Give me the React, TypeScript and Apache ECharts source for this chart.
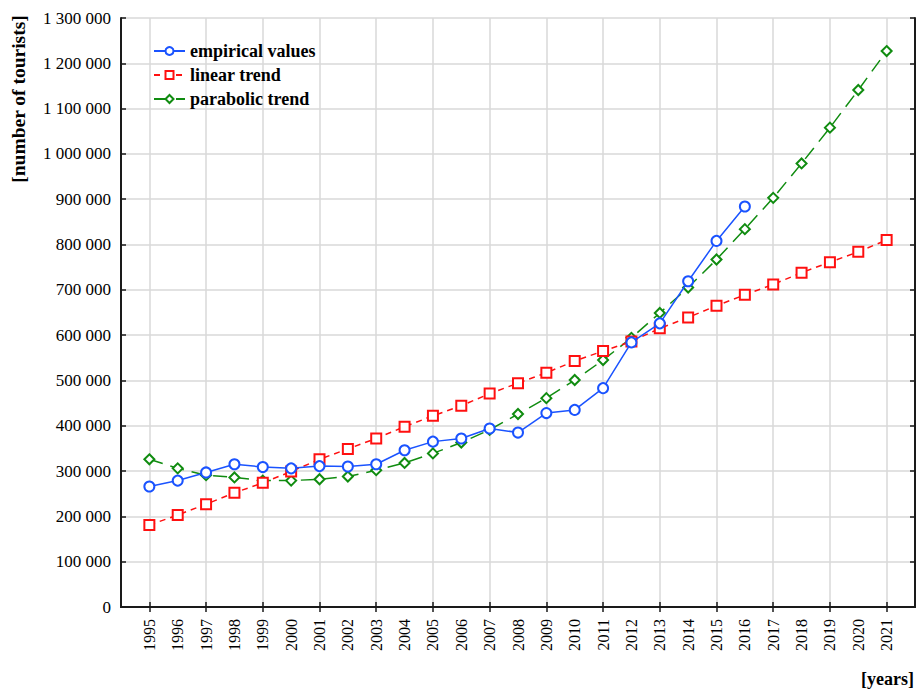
import React, { useEffect, useRef } from "react";
import * as echarts from "echarts";

const years = [
  "1995", "1996", "1997", "1998", "1999", "2000", "2001", "2002", "2003",
  "2004", "2005", "2006", "2007", "2008", "2009", "2010", "2011", "2012",
  "2013", "2014", "2015", "2016", "2017", "2018", "2019", "2020", "2021",
];

const empiricalValues = [
  266000, 279000, 297000, 315000, 309000, 306000, 311000, 310000, 315000,
  346000, 365000, 372000, 394000, 385000, 428000, 435000, 483000, 584000,
  626000, 719000, 808000, 884000,
];

const linearTrend = [
  181000, 203000, 227000, 252000, 274000, 299000, 326000, 349000, 372000,
  398000, 422000, 444000, 471000, 494000, 517000, 543000, 565000, 586000,
  615000, 639000, 665000, 689000, 712000, 738000, 761000, 784000, 810000,
];

const parabolicTrend = [
  326000, 306000, 291000, 286000, 279000, 279000, 282000, 288000, 302000,
  318000, 339000, 363000, 391000, 426000, 461000, 501000, 545000, 594000,
  649000, 705000, 767000, 834000, 903000, 979000, 1058000, 1141000, 1227000,
];

const seriesNames = ["empirical values", "linear trend", "parabolic trend"];
const yTitle = "[number of tourists]";
const xTitle = "[years]";

const FONT = "Liberation Serif";

const fmt = (v: number) =>
  String(Math.round(v)).replace(/\B(?=(\d{3})+(?!\d))/g, " ");

export default function App() {
  const ref = useRef<HTMLDivElement>(null);
  useEffect(() => {
    if (!ref.current) return;
    const chart = echarts.init(ref.current, null, { renderer: "svg" });
    const cats = ["", ...years, ""];
    const oddTick = (idx: number) => idx % 2 === 1;
    const pair = (arr: number[]) => arr.map((v, i) => [years[i], v]);
    const axisLine = { show: true, lineStyle: { color: "#1a1a1a", width: 2 } };
    chart.setOption({
      animation: false,
      backgroundColor: "#fff",
      textStyle: { fontFamily: FONT },
      grid: { left: 121, right: 2, top: 18, bottom: 82, containLabel: false },
      legend: {
        orient: "vertical",
        left: 148,
        top: 37,
        itemWidth: 31,
        itemHeight: 10,
        itemGap: 6,
        textStyle: {
          fontFamily: FONT,
          fontWeight: "bold",
          fontSize: 18,
          lineHeight: 17,
          color: "#000",
        },
        data: seriesNames,
      },
      xAxis: [
        {
          type: "category",
          data: cats,
          boundaryGap: false,
          position: "bottom",
          axisLine,
          axisTick: { show: true, inside: true, length: 5, interval: oddTick, lineStyle: { color: "#1a1a1a", width: 1.5 } },
          axisLabel: {
            interval: 0,
            rotate: 90,
            margin: 12,
            fontFamily: FONT,
            fontSize: 16,
            color: "#000",
            formatter: (v: string) => v,
          },
          splitLine: { show: true, interval: oddTick, lineStyle: { color: "#d9d9d9", width: 1.5 } },
        },
        {
          type: "category",
          data: cats,
          boundaryGap: false,
          position: "top",
          axisLine,
          axisTick: { show: true, inside: true, length: 5, interval: oddTick, lineStyle: { color: "#1a1a1a", width: 1.5 } },
          axisLabel: { show: false },
          splitLine: { show: false },
        },
      ],
      yAxis: [
        {
          type: "value",
          min: 0,
          max: 1300000,
          interval: 100000,
          position: "left",
          axisLine,
          axisTick: { show: true, inside: true, length: 5, lineStyle: { color: "#1a1a1a", width: 1.5 } },
          axisLabel: {
            margin: 10,
            fontFamily: FONT,
            fontSize: 17,
            color: "#000",
            formatter: fmt,
          },
          splitLine: { show: true, lineStyle: { color: "#d9d9d9", width: 1.5 } },
        },
        {
          type: "value",
          min: 0,
          max: 1300000,
          interval: 100000,
          position: "right",
          axisLine,
          axisTick: { show: true, inside: true, length: 5, lineStyle: { color: "#1a1a1a", width: 1.5 } },
          axisLabel: { show: false },
          splitLine: { show: false },
        },
      ],
      graphic: [
        {
          type: "text",
          x: 18,
          y: 99,
          rotation: Math.PI / 2,
          style: {
            text: yTitle,
            fontFamily: FONT,
            fontWeight: "bold",
            fontSize: 19.5,
            fill: "#000",
            textAlign: "center",
            textVerticalAlign: "middle",
          },
        },
        {
          type: "text",
          x: 914,
          y: 679,
          style: {
            text: xTitle,
            fontFamily: FONT,
            fontWeight: "bold",
            fontSize: 18,
            fill: "#000",
            textAlign: "right",
            textVerticalAlign: "middle",
          },
        },
      ],
      series: [
        {
          name: seriesNames[0],
          type: "line",
          data: pair(empiricalValues),
          symbol: "emptyCircle",
          symbolSize: 10,
          lineStyle: { color: "#1a53ff", width: 1.5, type: "solid" },
          itemStyle: { color: "#1a53ff", borderWidth: 1.5 },
          z: 4,
        },
        {
          name: seriesNames[1],
          type: "line",
          data: pair(linearTrend),
          symbol: "emptyRect",
          symbolSize: 10,
          lineStyle: { color: "#ff1010", width: 1.5, type: [6, 5] },
          itemStyle: { color: "#ff1010", borderWidth: 1.5 },
          z: 3,
        },
        {
          name: seriesNames[2],
          type: "line",
          data: pair(parabolicTrend),
          symbol: "emptyDiamond",
          symbolSize: 10,
          lineStyle: { color: "#108c10", width: 1.5, type: [14, 8] },
          itemStyle: { color: "#108c10", borderWidth: 1.5 },
          z: 2,
        },
      ],
    });
    return () => chart.dispose();
  }, []);
  return <div ref={ref} style={{ width: 917, height: 689, position: "absolute", left: 0, top: 0 }} />;
}
